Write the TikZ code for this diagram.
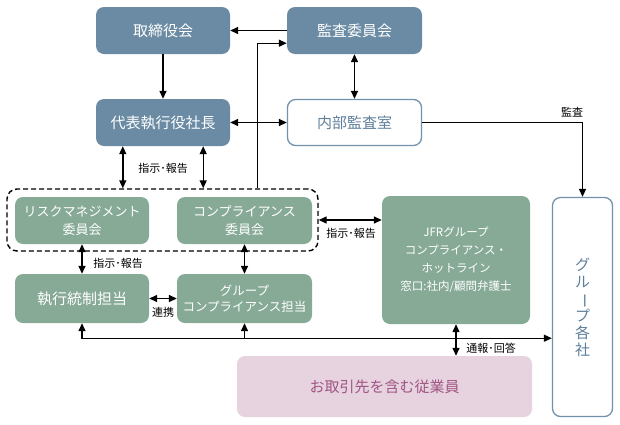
\documentclass[tikz,border=0pt]{standalone}
\usepackage{fontspec}
\usepackage{graphicx}
\setmainfont{Noto Sans CJK JP}
\usetikzlibrary{arrows.meta,calc}
\definecolor{bluebox}{HTML}{6A8BA3}
\definecolor{greenbox}{HTML}{87AA97}
\definecolor{pinkbox}{HTML}{E7D3DF}
\definecolor{pinktext}{HTML}{A05584}
\definecolor{blueline}{HTML}{7192AC}
\definecolor{bluetext}{HTML}{5E7F9C}
\tikzset{
  base/.style={rounded corners=8pt, inner sep=0pt, align=center},
  bbox/.style={base, fill=bluebox, text=white, font=\fontsize{15}{18}\selectfont},
  wbox/.style={base, fill=white, draw=blueline, line width=1.3pt, text=bluetext, font=\fontsize{15}{18}\selectfont},
  gbox/.style={base, fill=greenbox, text=white, font=\fontsize{13}{18}\selectfont},
  pbox/.style={base, fill=pinkbox, text=pinktext, font=\fontsize{15}{18}\selectfont},
  arr/.style={line width=1.4pt, -{Triangle[length=8pt,width=7pt]}},
  dbl/.style={line width=1.4pt, {Triangle[length=8pt,width=7pt]}-{Triangle[length=8pt,width=7pt]}},
  lbl/.style={font=\fontsize{11}{12}\selectfont, text=black, inner sep=0pt},
}
\begin{document}
\begin{tikzpicture}[x=1pt,y=-1pt]
\useasboundingbox (0,0) rectangle (620,424);
% nodes
\node[bbox, minimum width=134pt, minimum height=47pt] (tori) at (163,30.5) {取締役会};
\node[bbox, minimum width=135pt, minimum height=47pt] (kansa) at (354.5,30.5) {監査委員会};
\node[bbox, minimum width=134pt, minimum height=47pt] (daihyo) at (163,122.5) {代表執行役社長};
\node[wbox, minimum width=134pt, minimum height=46pt] (naibu) at (354.5,122.5) {内部監査室};
\node[draw, dashed, dash pattern=on 5pt off 3pt, line width=1.4pt, rounded corners=10pt, minimum width=311pt, minimum height=62pt, inner sep=0pt] (dash) at (162.5,220) {};
\node[gbox, minimum width=134pt, minimum height=47pt] (risk) at (82,220.5) {リスクマネジメント\\委員会};
\node[gbox, minimum width=135pt, minimum height=47pt] (compc) at (244.5,220.5) {コンプライアンス\\委員会};
\node[gbox, minimum width=134pt, minimum height=49pt, font=\fontsize{15}{18}\selectfont] (shikko) at (82,298.5) {執行統制担当};
\node[gbox, minimum width=135pt, minimum height=49pt, font=\fontsize{12.5}{16}\selectfont] (gcomp) at (244.5,298.5) {グループ\\コンプライアンス担当};
\node[gbox, minimum width=148pt, minimum height=128pt, font=\fontsize{11.5}{18}\selectfont] (jfr) at (456,260) {JFRグループ\\コンプライアンス・\\ホットライン\\窓口:社内/顧問弁護士};
\node[pbox, minimum width=295pt, minimum height=61pt] (otori) at (384.5,386.5) {お取引先を含む従業員};
\node[wbox, minimum width=60pt, minimum height=219pt, font=\fontsize{15}{17}\selectfont] (group) at (582.5,307) {グ\\ル\\\rotatebox[origin=c]{-90}{ー}\\プ\\各\\社};
% connectors
\draw[arr] (tori.south) -- (daihyo.north);
\draw[arr] (kansa.west) -- (tori.east);
\draw[arr] ($(dash.north west)+(251,0)$) |- ($(kansa.south west)+(0,-11)$);
\draw[dbl] (daihyo.east) -- (naibu.west);
\draw[dbl] (kansa.south) -- (naibu.north);
\draw[arr] (naibu.east) -| (group.north);
\node[lbl] (lkansa) at (572,112) {監査};
\draw[dbl] ($(daihyo.south west)+(27,0)$) coordinate (p1) -- (p1 |- dash.north);
\draw[dbl] ($(daihyo.south east)+(-27,0)$) coordinate (p2) -- (p2 |- dash.north);
\node[lbl] (l1) at (163,168) {指示･報告};
\draw[dbl] (risk.south) -- (shikko.north);
\node[lbl] (l2) at (118,263) {指示･報告};
\draw[dbl] (compc.south) -- (gcomp.north);
\draw[dbl] (shikko.east) -- (gcomp.west);
\node[lbl] (l3) at (163,312) {連携};
\draw[dbl] (dash.east) -- (dash.east -| jfr.west);
\node[lbl] (l4) at (351,233) {指示･報告};
\draw[dbl] (jfr.south) -- (jfr.south |- otori.north);
\coordinate (j) at ($(jfr.south)+(0,14)$);
\draw[arr] (j) -| (shikko.south);
\draw[arr] (j -| gcomp.south) -- (gcomp.south);
\draw[arr] (j) -- (j -| group.west);
\node[lbl] (l5) at (491,348) {通報･回答};
\end{tikzpicture}
\end{document}
